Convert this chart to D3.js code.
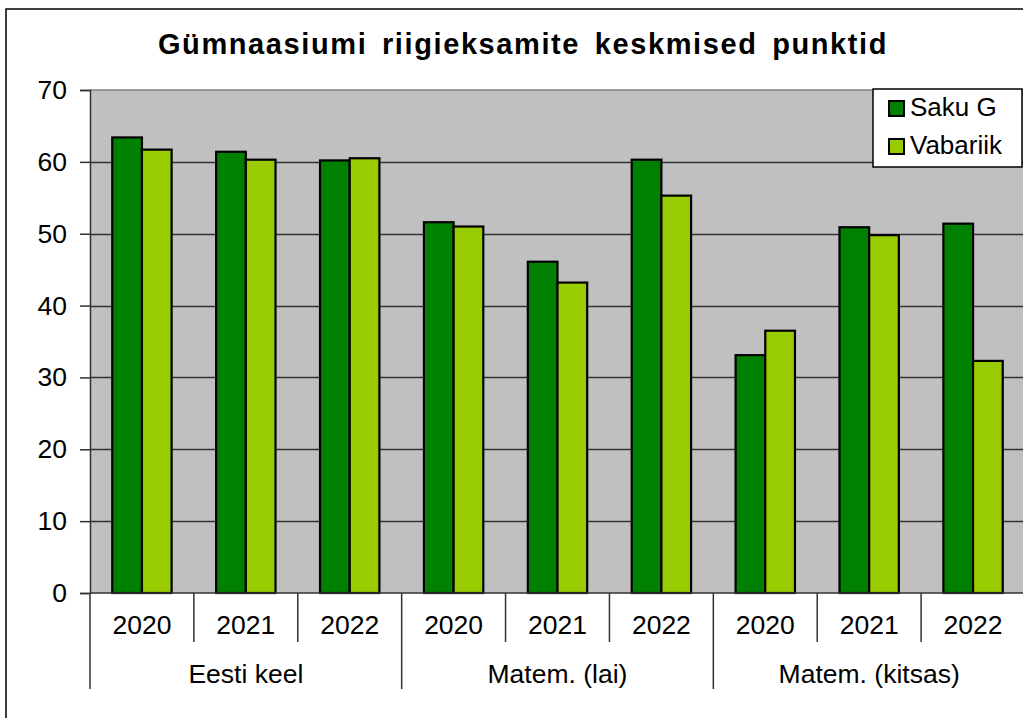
<!DOCTYPE html>
<html>
<head>
<meta charset="utf-8">
<script src="https://cdn.jsdelivr.net/npm/d3@7"></script>
<style>
  body { margin: 0; background: #fff; }
  svg { display: block; font-family: Arial, "Liberation Sans", sans-serif; }
</style>
</head>
<body>
<svg id="chart" width="1023" height="718"></svg>
<script>
// chart values
var groups = ["Eesti keel", "Matem. (lai)", "Matem. (kitsas)"];
var years = ["2020", "2021", "2022"];
var sakuG = [63.4, 61.4, 60.2, 51.6, 46.1, 60.3, 33.1, 50.9, 51.4];
var vabariik = [61.7, 60.3, 60.5, 51.0, 43.2, 55.3, 36.5, 49.8, 32.3];
var seriesNames = ["Saku G", "Vabariik"];
var yTicks = [0, 10, 20, 30, 40, 50, 60, 70];

var colors = {"Saku G": "#008000", "Vabariik": "#99cc00"};

var svg = d3.select("#chart");
var plot = {left: 90, top: 90, right: 1025, bottom: 593};

// one entry per year column
var cats = [];
groups.forEach(function(g, gi){
	years.forEach(function(y, yi){
		cats.push({group: g, year: y, idx: gi * years.length + yi});
	});
});

// outer chart frame
svg.append("rect")
	.attr("x", 6).attr("y", 9)
	.attr("width", 1040).attr("height", 740)
	.attr("fill", "#fff")
	.attr("stroke", "#000").attr("stroke-width", 1.5);

var x = d3.scaleBand()
	.domain(cats.map(function(d){ return d.idx; }))
	.range([plot.left, plot.right])
	.paddingInner(0).paddingOuter(0);

var xInner = d3.scaleBand()
	.domain(seriesNames)
	.range([0, x.bandwidth()])
	.paddingInner(0)
	.paddingOuter(0.75);

var y = d3.scaleLinear().domain([0, 70]).range([plot.bottom, plot.top]);

// plot background
svg.append("rect")
	.attr("x", plot.left).attr("y", plot.top)
	.attr("width", plot.right - plot.left).attr("height", plot.bottom - plot.top)
	.attr("fill", "#c0c0c0");

svg.append("line")
	.attr("x1", plot.left).attr("x2", plot.right)
	.attr("y1", plot.top).attr("y2", plot.top)
	.attr("stroke", "#808080").attr("stroke-width", 1.5);

// gridlines
svg.append("g")
	.selectAll("line")
	.data(yTicks.filter(function(t){ return t > 0 && t < 70; }))
	.enter().append("line")
	.attr("x1", plot.left).attr("x2", plot.right)
	.attr("y1", function(d){ return Math.round(y(d)) + 0.5; })
	.attr("y2", function(d){ return Math.round(y(d)) + 0.5; })
	.attr("stroke", "#333").attr("stroke-width", 1.5);

// bars
var rows = cats.map(function(c){
	return {cat: c, values: [
		{name: "Saku G", value: sakuG[c.idx]},
		{name: "Vabariik", value: vabariik[c.idx]}]};
});

svg.append("g")
	.selectAll("g")
	.data(rows)
	.enter().append("g")
	.attr("transform", function(d){ return "translate(" + x(d.cat.idx) + ",0)"; })
	.selectAll("rect")
	.data(function(d){ return d.values; })
	.enter().append("rect")
	.attr("x", function(d){ return xInner(d.name); })
	.attr("width", xInner.bandwidth())
	.attr("y", function(d){ return y(d.value); })
	.attr("height", function(d){ return y(0) - y(d.value); })
	.attr("fill", function(d){ return colors[d.name]; })
	.attr("stroke", "#000")
	.attr("stroke-width", 2.2);

// y axis
var yAxis = svg.append("g")
	.attr("transform", "translate(" + plot.left + ",0)")
	.call(d3.axisLeft(y).tickValues(yTicks).tickSize(10).tickPadding(13));
yAxis.select(".domain").attr("stroke", "#333").attr("stroke-width", 1.5);
yAxis.selectAll(".tick line").attr("stroke", "#333").attr("stroke-width", 1.5);
yAxis.selectAll("text")
	.attr("font-size", 26.5)
	.attr("font-family", "Arial, 'Liberation Sans', sans-serif")
	.attr("fill", "#000");

// x axis: baseline, year labels, dividers
svg.append("line")
	.attr("x1", plot.left).attr("x2", plot.right)
	.attr("y1", plot.bottom).attr("y2", plot.bottom)
	.attr("stroke", "#333").attr("stroke-width", 1.5);

svg.append("g")
	.selectAll("line")
	.data(cats)
	.enter().append("line")
	.attr("x1", function(d){ return x(d.idx); })
	.attr("x2", function(d){ return x(d.idx); })
	.attr("y1", plot.bottom)
	.attr("y2", function(d){ return d.idx % years.length === 0 ? 689 : 642; })
	.attr("stroke", "#333").attr("stroke-width", 1.5);

svg.append("g")
	.selectAll("text")
	.data(cats)
	.enter().append("text")
	.attr("x", function(d){ return x(d.idx) + x.bandwidth() / 2; })
	.attr("y", 634)
	.attr("text-anchor", "middle")
	.attr("font-size", 26.5)
	.text(function(d){ return d.year; });

svg.append("g")
	.selectAll("text")
	.data(groups)
	.enter().append("text")
	.attr("x", function(d, i){
		return (x(i * years.length) + x(i * years.length + years.length - 1) + x.bandwidth()) / 2;
	})
	.attr("y", 683)
	.attr("text-anchor", "middle")
	.attr("font-size", 26.5)
	.text(function(d){ return d; });

// title
svg.append("text")
	.attr("x", 523)
	.attr("y", 54)
	.attr("text-anchor", "middle")
	.attr("font-size", 29)
	.attr("font-weight", "bold")
	.attr("letter-spacing", 1.6)
	.attr("word-spacing", 5)
	.text("Gümnaasiumi riigieksamite keskmised punktid");

// legend
var legend = svg.append("g").attr("transform", "translate(873,89)");
legend.append("rect")
	.attr("x", 0).attr("y", 0)
	.attr("width", 149).attr("height", 78)
	.attr("fill", "#fff").attr("stroke", "#000").attr("stroke-width", 1.5);

var li = legend.selectAll("g.item")
	.data(seriesNames)
	.enter().append("g")
	.attr("class", "item")
	.attr("transform", function(d, i){ return "translate(16," + (12 + i * 38) + ")"; });
li.append("rect")
	.attr("width", 15).attr("height", 15)
	.attr("fill", function(d){ return colors[d]; })
	.attr("stroke", "#000").attr("stroke-width", 2);
li.append("text")
	.attr("x", 21).attr("y", 15)
	.attr("font-size", 26)
	.text(function(d){ return d; });
</script>
</body>
</html>
